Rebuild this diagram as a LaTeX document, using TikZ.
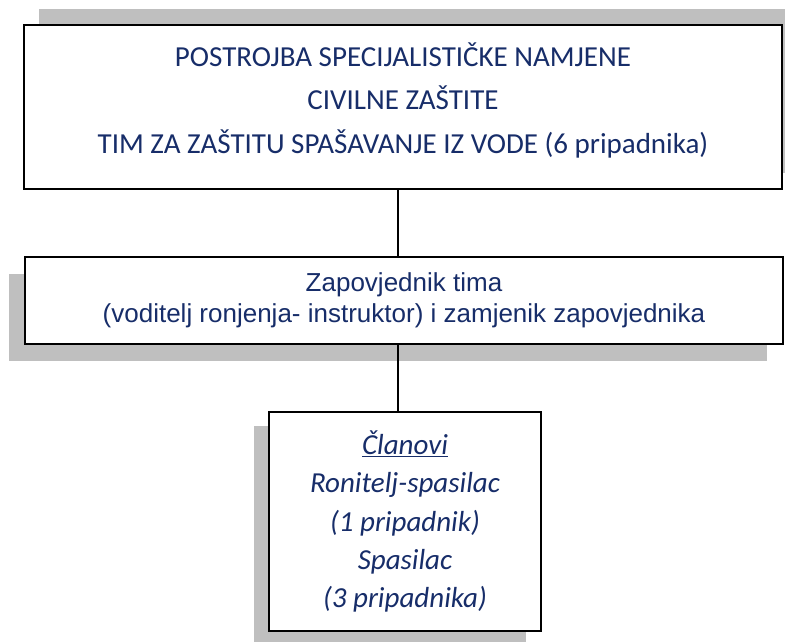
\documentclass[tikz,border=0pt]{standalone}
\usepackage{fontspec}
\setmainfont{Carlito}
\newfontfamily\arialfont{Liberation Sans}
\usepackage{xcolor}
\usepackage{tikz}
\usetikzlibrary{shadows}

\definecolor{navytext}{RGB}{23,45,105}
\definecolor{shadowgray}{RGB}{191,191,191}

\begin{document}
\begin{tikzpicture}[x=1pt, y=-1pt,
    unitbox/.style={rectangle, draw=black, line width=1.5pt, fill=white, inner sep=0, align=center, text=navytext},
    topfont/.style={font={\fontsize{29pt}{43.5pt}\selectfont}},
    midfont/.style={font={\arialfont\fontsize{26pt}{31pt}\selectfont}},
    botfont/.style={font={\itshape\fontsize{29pt}{38.3pt}\selectfont}},
    link/.style={line width=1.5pt, black}]
        \clip (0,0) rectangle (785,642);

        \node (top) [unitbox, topfont, minimum width=758pt, minimum height=164pt, text depth=18pt,
            drop shadow={shadow xshift=15pt, shadow yshift=16pt, fill=shadowgray, opacity=1}]
            at (403, 107) {POSTROJBA SPECIJALISTIČKE NAMJENE\\ CIVILNE ZAŠTITE\\ TIM ZA ZAŠTITU SPAŠAVANJE IZ VODE (6 pripadnika)};

        \node (mid) [unitbox, midfont, minimum width=758pt, minimum height=87pt,
            drop shadow={shadow xshift=-16pt, shadow yshift=-17pt, fill=shadowgray, opacity=1}]
            at (404, 300.5) {Zapovjednik tima\\ (voditelj ronjenja- instruktor) i zamjenik zapovjednika};

        \node (bot) [unitbox, botfont, minimum width=272pt, minimum height=219pt,
            drop shadow={shadow xshift=-15pt, shadow yshift=-14pt, fill=shadowgray, opacity=1}]
            at (405, 521.5) {\underline{Članovi}\\ Ronitelj-spasilac\\ (1 pripadnik)\\ Spasilac\\ (3 pripadnika)};

        \path[link]
        ([xshift=-5pt]top.south) edge ([xshift=-6pt]mid.north)
        ([xshift=-6pt]mid.south) edge ([xshift=-7pt]bot.north)
        ;
      \end{tikzpicture}
\end{document}
